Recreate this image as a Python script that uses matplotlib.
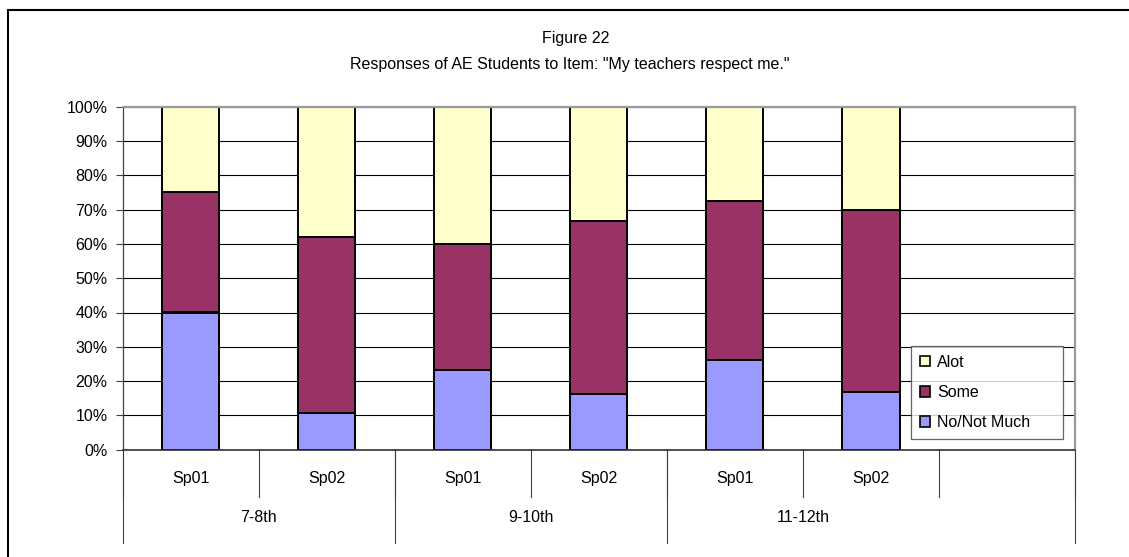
import matplotlib.pyplot as plt
from matplotlib.patches import Rectangle, Patch
from matplotlib.transforms import blended_transform_factory

plt.rcParams['font.family'] = ['Liberation Sans', 'DejaVu Sans']

sessions = ['Sp01', 'Sp02', 'Sp01', 'Sp02', 'Sp01', 'Sp02']
grades = ['7-8th', '9-10th', '11-12th']
grade_span = [(0, 1), (2, 3), (4, 5)]   # which bars sit under each grade
no_not_much = [40.0, 10.7, 23.2, 16.1, 26.1, 16.7]
some = [35.0, 51.3, 36.8, 50.6, 46.3, 53.1]
alot = [25.0, 38.0, 40.0, 33.3, 27.6, 30.2]
yticks = list(range(0, 101, 10))

c_no, c_some, c_alot = '#9999FF', '#993366', '#FFFFCC'
fs = 11.5

fig = plt.figure(figsize=(11.29, 5.57), dpi=100)
W, H = 1129, 557
# plot area in pixels: x 122.7..1075, y 106.7..449.7
ax = fig.add_axes([122.7 / W, 1 - 449.7 / H, (1075 - 122.7) / W, (449.7 - 106.7) / H])

x = list(range(len(sessions)))
bw = 0.42
ekw = dict(edgecolor='black', linewidth=1.4, width=bw)
ax.bar(x, no_not_much, color=c_no, **ekw)
ax.bar(x, some, bottom=no_not_much, color=c_some, **ekw)
bottom3 = [a + b for a, b in zip(no_not_much, some)]
ax.bar(x, alot, bottom=bottom3, color=c_alot, **ekw)

n_slots = len(sessions) + 1   # excel leaves one empty slot at the end
ax.set_xlim(-0.5, n_slots - 0.5)
ax.set_ylim(0, 100)
ax.set_yticks(yticks)
ax.set_yticklabels([f'{t}%' for t in yticks], fontsize=fs)
ax.tick_params(axis='y', length=5, width=0.8, pad=6, color='#404040')
ax.set_xticks([])
ax.yaxis.grid(True, color='black', linewidth=0.8)
ax.set_axisbelow(True)

for s in ['top', 'right']:
    ax.spines[s].set_color('#999999')
    ax.spines[s].set_linewidth(1.6)
ax.spines['left'].set_color('#404040')
ax.spines['left'].set_linewidth(0.9)
ax.spines['bottom'].set_color('#303030')
ax.spines['bottom'].set_linewidth(1.2)

# two level category axis
tr = blended_transform_factory(ax.transData, ax.transAxes)
ax_h = 449.7 - 106.7
y_sep = -47 / ax_h
y_grp = -93 / ax_h
for i in range(n_slots + 1):
    ax.plot([i - 0.5, i - 0.5], [0, y_sep], color='#404040', lw=0.8,
            transform=tr, clip_on=False)
grp_edges = [-0.5] + [g[1] + 0.5 for g in grade_span[:-1]] + [n_slots - 0.5]
for e in grp_edges:
    ax.plot([e, e], [0, y_grp], color='#404040', lw=0.8,
            transform=tr, clip_on=False)
for i, s in enumerate(sessions):
    ax.text(i, -28.3 / ax_h, s, transform=tr, ha='center', va='center', fontsize=fs)
for g, (a, b) in zip(grades, grade_span):
    ax.text((a + b) / 2, -68 / ax_h, g, transform=tr, ha='center', va='center', fontsize=fs)

# legend
handles = [Patch(facecolor=c_alot, edgecolor='black', lw=1.2),
           Patch(facecolor=c_some, edgecolor='black', lw=1.2),
           Patch(facecolor=c_no, edgecolor='black', lw=1.2)]
leg = fig.legend(handles, ['Alot', 'Some', 'No/Not Much'], loc='upper left',
                 bbox_to_anchor=(911 / W, 1 - 346 / H, (1063 - 911) / W, 0.0),
                 mode='expand', fontsize=fs, frameon=True, fancybox=False,
                 handlelength=0.62, handleheight=0.62, handletextpad=0.45,
                 labelspacing=0.95, borderpad=0.55, borderaxespad=0)
leg.get_frame().set_edgecolor('#404040')
leg.get_frame().set_linewidth(0.9)

# titles
fig.text(576 / W, 1 - 39 / H, 'Figure 22', ha='center', va='center', fontsize=fs)
fig.text(570 / W, 1 - 65 / H, 'Responses of AE Students to Item: "My teachers respect me."',
         ha='center', va='center', fontsize=fs)

# outer chart border (right and bottom edges fall outside the picture)
top = 1 - 10 / H
fig.patches.append(Rectangle((8 / W, -0.2), 1.2, top + 0.2, transform=fig.transFigure,
                             fill=False, edgecolor='black', linewidth=1.5))

fig.savefig('out.png', dpi=100)
